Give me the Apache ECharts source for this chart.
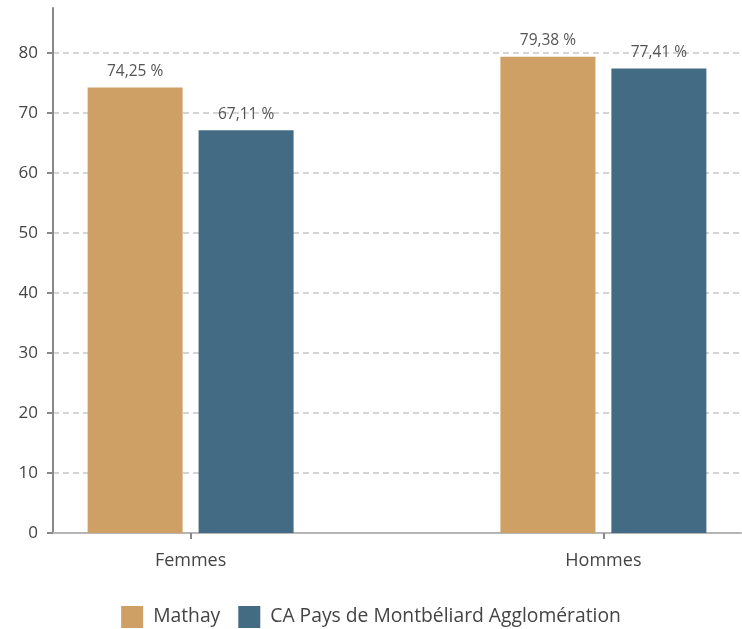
<!DOCTYPE html>
<html><head><meta charset="utf-8">
<script src="https://cdn.jsdelivr.net/npm/echarts@6/dist/echarts.min.js"></script>
<style>html,body{margin:0;padding:0;background:#fff}#c{width:742px;height:629px}</style>
</head><body><div id="c"></div>
<script>
const categories = ['Femmes', 'Hommes'];
const seriesNames = ['Mathay', 'CA Pays de Montbéliard Agglomération'];
const mathay = [74.25, 79.38];
const caPMA = [67.11, 77.41];
const yTicks = [0, 10, 20, 30, 40, 50, 60, 70, 80];
const colors = ['#cfa065', '#446b84'];

// padded category positions so the two groups sit at 1/5 and 4/5 of the axis
const slots = ['', categories[0], '', '', categories[1], ''];
function pad(vals) { return [null, vals[0], null, null, vals[1], null]; }

const font = "'Open Sans', 'DejaVu Sans', sans-serif";
const fmt = p => p.value.toFixed(2).replace('.', ',') + ' %';
const grid = '#c8c8c8';

const chart = echarts.init(document.getElementById('c'));
chart.setOption({
  animation: false,
  color: colors,
  textStyle: { fontFamily: font },
  grid: { left: 53, right: 1, top: 8, bottom: 96, containLabel: false },
  legend: {
    top: 601, left: 'center', itemWidth: 22, itemHeight: 22, itemGap: 18,
    icon: 'rect',
    textStyle: { fontSize: 19.3, color: '#444', fontFamily: font, padding: [0, 0, 0, 5] },
    data: seriesNames
  },
  xAxis: {
    type: 'category', data: slots, boundaryGap: false,
    axisLine: { lineStyle: { color: '#b5b5b5', width: 2 } },
    axisTick: { show: true, length: 6, lineStyle: { color: '#888', width: 2 },
      interval: (i, v) => v !== '' },
    axisLabel: { color: '#444', fontSize: 18, margin: 19, fontFamily: font,
      interval: (i, v) => v !== '' },
    splitLine: { show: false }
  },
  yAxis: {
    type: 'value', min: 0, max: 87.5, interval: 10,
    axisLine: { show: true, lineStyle: { color: '#888', width: 2 } },
    axisTick: { show: true, length: 6, lineStyle: { color: '#888', width: 2 }, customValues: yTicks },
    axisLabel: { color: '#444', fontSize: 17, margin: 15, fontFamily: font, customValues: yTicks },
    splitLine: { show: true, lineStyle: { color: [grid,grid,grid,grid,grid,grid,grid,grid,grid,'rgba(0,0,0,0)'], type: [6, 4], width: 1.5 } }
  },
  series: [
    { name: seriesNames[0], type: 'bar', data: pad(mathay), barWidth: 95, barGap: '16.8%',
      label: { show: true, position: 'top', distance: 8, color: '#555', fontSize: 15.5, fontFamily: font, formatter: fmt } },
    { name: seriesNames[1], type: 'bar', data: pad(caPMA), barWidth: 95,
      label: { show: true, position: 'top', distance: 8, color: '#555', fontSize: 15.5, fontFamily: font, formatter: fmt } }
  ]
});
</script></body></html>
